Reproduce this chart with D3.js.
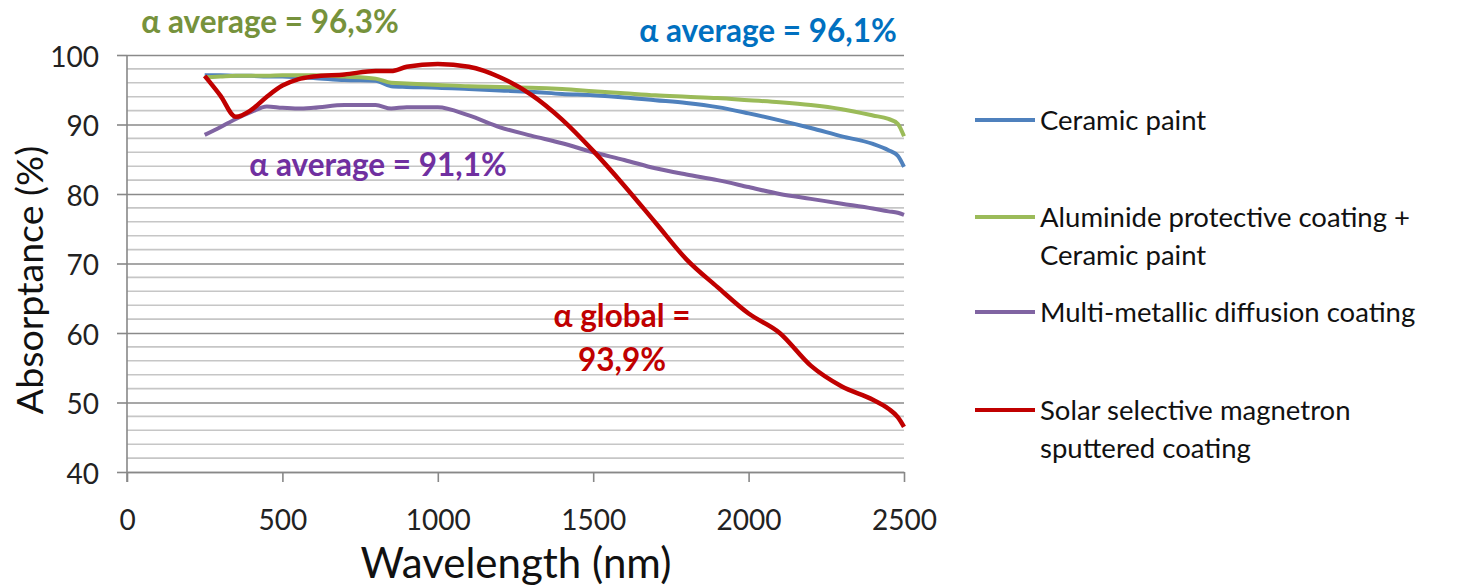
<!DOCTYPE html>
<meta charset="utf-8">
<style>
body { margin: 0; background: #fff; font-family: Lato, "Open Sans", sans-serif; }
.tick text { fill: #222; }
.legend text { font-size: 27.5px; fill: #111; }
.note { font-weight: bold; font-size: 31.5px; }
</style>
<body>
<script src="https://d3js.org/d3.v7.min.js"></script>
<script>
// wavelengths (nm) shared by all four curves
var wavelength = [250, 300, 350, 400, 450, 500, 550, 600, 700, 800, 850, 900, 1000, 1100, 1200,
  1300, 1400, 1500, 1600, 1700, 1800, 1900, 2000, 2100, 2200, 2300, 2400, 2450, 2480, 2500];

var ceramic = [97.1, 97.1, 97.0, 97.0, 96.9, 96.9, 96.8, 96.7, 96.4, 96.3, 95.5, 95.4, 95.3, 95.1, 94.9,
  94.7, 94.4, 94.2, 93.9, 93.5, 93.1, 92.5, 91.6, 90.6, 89.5, 88.3, 87.2, 86.3, 85.5, 83.9];
var aluminide = [96.8, 96.9, 97.0, 97.0, 97.0, 97.1, 97.1, 97.1, 96.9, 96.6, 96.0, 95.9, 95.7, 95.5, 95.4,
  95.3, 95.1, 94.8, 94.5, 94.2, 94.0, 93.8, 93.5, 93.2, 92.8, 92.2, 91.3, 90.8, 90.1, 88.3];
var multimetal = [88.5, 89.6, 90.8, 91.8, 92.6, 92.4, 92.3, 92.4, 92.8, 92.8, 92.3, 92.5, 92.5, 91.3, 89.6,
  88.4, 87.3, 86.0, 84.9, 83.7, 82.8, 82.0, 81.0, 80.0, 79.3, 78.6, 77.9, 77.5, 77.3, 77.0];
var solar = [97.0, 94.2, 91.1, 92.1, 94.0, 95.6, 96.5, 96.9, 97.2, 97.7, 97.7, 98.3, 98.7, 98.3, 96.8,
  94.3, 90.7, 86.2, 81.2, 75.9, 70.6, 66.6, 62.8, 60.0, 55.3, 52.3, 50.4, 49.1, 47.9, 46.5];

var xTicks = [0, 500, 1000, 1500, 2000, 2500];
var yTicks = [40, 50, 60, 70, 80, 90, 100];

var series = [
  {name: ["Ceramic paint"], values: ceramic, color: "#4f81bd"},
  {name: ["Aluminide protective coating +", "Ceramic paint"], values: aluminide, color: "#9bbb59"},
  {name: ["Multi-metallic diffusion coating"], values: multimetal, color: "#8064a2"},
  {name: ["Solar selective magnetron", "sputtered coating"], values: solar, color: "#c00000"}
];

var notes = [
  {text: "α average = 96,3%", color: "#76923c", x: 270, y: 33},
  {text: "α average = 96,1%", color: "#0070c0", x: 768, y: 42},
  {text: "α average = 91,1%", color: "#7030a0", x: 378, y: 176},
  {text: "α global =", color: "#c00000", x: 622, y: 327},
  {text: "93,9%", color: "#c00000", x: 622, y: 371}
];

var W = 1466, H = 587;
var svg = d3.select("body").append("svg").attr("width", W).attr("height", H);

var x = d3.scaleLinear().domain([0, 2500]).range([127, 904]);
var y = d3.scaleLinear().domain([40, 100]).range([472, 55]);

// minor gridlines every 2 %
svg.append("g").selectAll("line")
  .data(d3.range(42, 100, 2).filter(function(v) { return v % 10 != 0; }))
  .enter().append("line")
  .attr("x1", x(0)).attr("x2", x(2500))
  .attr("y1", function(d) { return y(d); }).attr("y2", function(d) { return y(d); })
  .attr("stroke", "#c6c6c6").attr("stroke-width", 1.6);

// y axis with major gridlines
var yAxis = svg.append("g")
  .attr("transform", "translate(" + x(0) + ",0)")
  .call(d3.axisLeft(y).tickValues(yTicks).tickSize(10).tickPadding(18));
yAxis.selectAll(".tick line").attr("stroke", "#888").attr("stroke-width", 1.6);
yAxis.selectAll(".tick").append("line")
  .attr("x2", x(2500) - x(0)).attr("stroke", "#8a8a8a").attr("stroke-width", 1.6);
yAxis.select(".domain").remove();
yAxis.selectAll(".tick text").attr("font-size", 28).attr("font-family", "Lato").attr("dy", "0.4em");

var xAxis = svg.append("g")
  .attr("transform", "translate(0," + y(40) + ")")
  .call(d3.axisBottom(x).tickValues(xTicks).tickFormat(d3.format("d"))
    .tickSize(10).tickPadding(28).tickSizeOuter(0));
xAxis.selectAll(".tick line").attr("stroke", "#888").attr("stroke-width", 1.6);
xAxis.select(".domain").attr("stroke", "#888").attr("stroke-width", 1.6);
xAxis.selectAll(".tick text").attr("font-size", 28).attr("font-family", "Lato");

// vertical axis line
svg.append("line")
  .attr("x1", x(0)).attr("x2", x(0)).attr("y1", y(100)).attr("y2", y(40) + 10)
  .attr("stroke", "#888").attr("stroke-width", 1.6);

// axis titles
svg.append("text")
  .attr("transform", "translate(43," + 280 + ") rotate(-90)")
  .attr("text-anchor", "middle").attr("font-size", 37.5).attr("fill", "#111")
  .text("Absorptance (%)");
svg.append("text")
  .attr("x", 516).attr("y", 578)
  .attr("text-anchor", "middle").attr("font-size", 42).attr("fill", "#111")
  .text("Wavelength (nm)");

var line = d3.line()
  .x(function(d, i) { return x(wavelength[i]); })
  .y(function(d) { return y(d); })
  .curve(d3.curveMonotoneX);

series.forEach(function(s, i) {
  svg.append("path")
    .attr("d", line(s.values))
    .attr("fill", "none")
    .attr("stroke", s.color)
    .attr("stroke-width", i == 3 ? 4.5 : 4)
    .attr("stroke-linejoin", "round");
});

// legend
var legendY = [120, 217, 312, 410];
var lg = svg.append("g").attr("class", "legend");
series.forEach(function(s, i) {
  lg.append("line")
    .attr("x1", 975).attr("x2", 1035)
    .attr("y1", legendY[i]).attr("y2", legendY[i])
    .attr("stroke", s.color).attr("stroke-width", 4);
  s.name.forEach(function(t, j) {
    lg.append("text")
      .attr("x", 1040).attr("y", legendY[i] + j * 38)
      .attr("dy", "0.36em")
      .text(t);
  });
});

// annotations
svg.selectAll(".note").data(notes).enter().append("text")
  .attr("class", "note")
  .attr("x", function(d) { return d.x; }).attr("y", function(d) { return d.y; })
  .attr("text-anchor", "middle")
  .attr("fill", function(d) { return d.color; })
  .text(function(d) { return d.text; });
</script>
</body>
